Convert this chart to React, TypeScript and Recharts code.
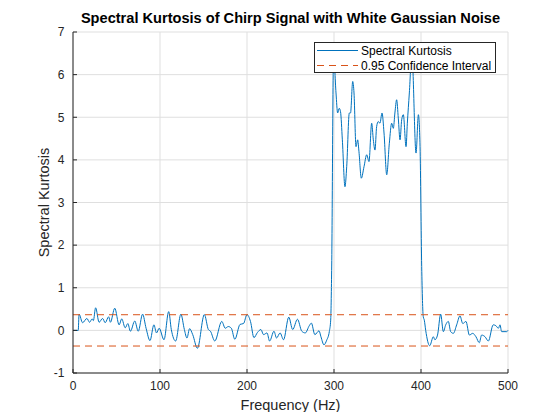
import { CartesianGrid, Label, Legend, Line, LineChart, ReferenceLine, XAxis, YAxis } from 'recharts';

const freqHz = [
  0, 6, 7, 11, 16, 19, 22, 23.4, 26, 30, 34, 37, 41, 43, 48, 53, 56, 60, 63, 66, 71, 75, 80, 84, 88.5, 93, 96, 99,
  104.6, 110, 113, 118, 124, 128, 131, 134, 137.6, 143, 151, 155.6, 158, 163, 171, 175, 178.5, 182, 186, 192, 196,
  200, 204, 208, 212, 216, 219, 223, 226, 231, 234, 238, 242, 248, 252.5, 258, 263, 267, 271.6, 274, 278, 282.8,
  285, 288.5, 291.6, 294.6, 296.2, 297.3, 299.5, 302.3, 304.2, 306, 307.5, 309.6, 312.6, 314.6, 317.6, 319, 321.5,
  323, 325.3, 327.2, 328.7, 331.4, 334.5, 337.6, 340.2, 343.3, 345.2, 347.1, 349, 350.9, 352.8, 355.2, 357.5, 360.6,
  363.6, 366.3, 368.2, 370, 372, 373.9, 375.9, 377.8, 379.7, 382.8, 384.3, 386.6, 389.5, 394.3, 397, 398.9, 400.8,
  402.6, 403.8, 405.4, 410, 414.2, 416, 419, 422.6, 425.7, 428.4, 431.4, 434.1, 437.2, 441, 444.8, 448, 451.7, 455.6,
  459.4, 463.2, 467, 469.7, 473.6, 477.4, 483, 486, 489, 490.8, 492.7, 498.5, 500,
];

const kurtosis = [
  0, 0, 0.38, 0.18, 0.28, 0.19, 0.27, 0.23, 0.53, 0.19, 0.28, 0.18, 0.32, 0.19, 0.52, 0.13, 0.27, 0.06, 0.16, -0.02,
  0.22, -0.02, 0.38, 0.05, -0.24, 0.13, -0.06, 0.05, -0.22, 0.44, 0.02, -0.25, 0.38, 0.02, -0.18, 0.04, -0.1, -0.42,
  0.37, 0.02, -0.02, -0.25, 0.21, 0.05, 0.09, 0.05, -0.21, 0.14, 0.16, 0.37, 0.21, -0.17, -0.05, 0.02, -0.1, -0.06,
  -0.25, -0.02, -0.18, -0.06, -0.22, 0.31, 0.02, 0.26, -0.02, -0.06, 0.11, 0.17, -0.1, -0.01, -0.15, -0.34, -0.23,
  -0.03, 0.24, 1.4, 6.5, 5.57, 5.1, 5.21, 5.13, 4.47, 3.37, 3.84, 5.1, 5.1, 5.84, 5.57, 4.31, 4.47, 4.19, 3.57, 3.84,
  4.12, 3.96, 4.86, 4.47, 4.23, 4.78, 4.9, 4.86, 5.1, 4.63, 3.65, 4.39, 4.86, 4.74, 5.1, 5.41, 4.98, 4.47, 4.94,
  5.06, 4.31, 4.86, 5.57, 6.5, 4.16, 5.06, 4.31, 1.5, 0.32, 0.24, 0, -0.36, -0.15, -0.22, -0.11, 0.38, -0.03, 0.13,
  0.21, -0.03, -0.07, 0.13, 0.34, 0.16, 0.21, -0.11, -0.07, -0.15, -0.29, -0.11, -0.15, -0.25, 0.13, 0.11, 0.05,
  0.13, -0.03, -0.03, 0,
];

const confidenceBounds = [0.367, -0.367];
const xTicks = [0, 100, 200, 300, 400, 500];
const yTicks = [-1, 0, 1, 2, 3, 4, 5, 6, 7];

const chartData = freqHz.map((f, i) => ({ freq: f, sk: kurtosis[i] }));

const FONT = '"Liberation Sans", Arial, Helvetica, sans-serif';
const AXIS = '#262626';
const tickStyle = { fill: AXIS, fontSize: 12, fontFamily: FONT };

const ChartLegend = () => (
  <div
    style={{
      width: 182,
      height: 31,
      boxSizing: 'border-box',
      border: `1px solid ${AXIS}`,
      background: '#fff',
    }}
  >
    <svg width={180} height={29} style={{ display: 'block' }}>
      <line x1={2} x2={43} y1={7.5} y2={7.5} stroke="#0072BD" strokeWidth={1} />
      <text x={46} y={11.5} fontSize={12} fontFamily={FONT} fill="#000">
        Spectral Kurtosis
      </text>
      <line x1={2} x2={43} y1={22.5} y2={22.5} stroke="#D95319" strokeWidth={1} strokeDasharray="7 5" />
      <text x={46} y={26.5} fontSize={12} fontFamily={FONT} fill="#000">
        0.95 Confidence Interval
      </text>
    </svg>
  </div>
);

export default function App() {
  return (
    <div style={{ position: 'relative', width: 552, height: 404 }}>
      <div
        style={{
          position: 'absolute',
          left: 65,
          top: 1.5,
          width: 435,
          textAlign: 'center',
          fontFamily: FONT,
          fontSize: 14.6,
          fontWeight: 'bold',
          lineHeight: '17px',
          color: '#000',
          whiteSpace: 'nowrap',
          zIndex: 1,
        }}
      >
        Spectral Kurtosis of Chirp Signal with White Gaussian Noise
      </div>
      <LineChart width={552} height={404} data={chartData} margin={{ top: 24, right: 52, bottom: 9, left: 15 }}>
        <CartesianGrid stroke="#dfdfdf" strokeWidth={1} />
        <XAxis
          dataKey="freq"
          type="number"
          domain={[0, 500]}
          ticks={xTicks}
          height={30}
          stroke={AXIS}
          tick={tickStyle}
          tickSize={-4}
          tickMargin={12.5}
        >
          <Label
            content={({ viewBox }: any) => (
              <text
                x={viewBox.x + viewBox.width / 2}
                y={viewBox.y + 37}
                textAnchor="middle"
                fontSize={14.5}
                fontFamily={FONT}
                fill={AXIS}
              >
                Frequency (Hz)
              </text>
            )}
          />
        </XAxis>
        <XAxis
          xAxisId="top"
          orientation="top"
          dataKey="freq"
          type="number"
          domain={[0, 500]}
          ticks={xTicks}
          height={0}
          stroke={AXIS}
          tickSize={-4}
          tickFormatter={() => ''}
        />
        <YAxis
          type="number"
          domain={[-1, 7]}
          ticks={yTicks}
          width={50}
          stroke={AXIS}
          tick={tickStyle}
          tickSize={-4}
          tickMargin={12.5}
        >
          <Label
            content={({ viewBox }: any) => {
              const cx = viewBox.x + 21;
              const cy = viewBox.y + viewBox.height / 2;
              return (
                <text
                  x={cx}
                  y={cy}
                  transform={`rotate(-90 ${cx} ${cy})`}
                  textAnchor="middle"
                  dominantBaseline="central"
                  fontSize={14.5}
                  fontFamily={FONT}
                  fill={AXIS}
                >
                  Spectral Kurtosis
                </text>
              );
            }}
          />
        </YAxis>
        <YAxis
          yAxisId="right"
          orientation="right"
          type="number"
          domain={[-1, 7]}
          ticks={yTicks}
          width={0}
          stroke={AXIS}
          tickSize={-4}
          tickFormatter={() => ''}
        />
        <Line
          type="monotone"
          dataKey="sk"
          stroke="#0072BD"
          strokeWidth={1}
          dot={false}
          activeDot={false}
          isAnimationActive={false}
        />
        {confidenceBounds.map((b) => (
          <ReferenceLine key={b} y={b} stroke="#D95319" strokeWidth={1} strokeDasharray="7 5" />
        ))}
        <Legend
          layout="horizontal"
          verticalAlign="middle"
          align="center"
          content={() => <ChartLegend />}
          wrapperStyle={{ left: 306, top: 34, width: 182, height: 31 }}
        />
      </LineChart>
    </div>
  );
}
